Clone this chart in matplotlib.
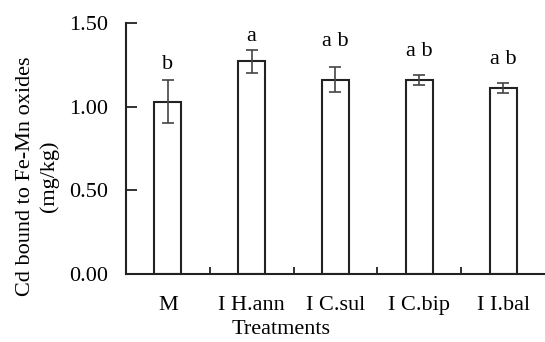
import matplotlib.pyplot as plt
import numpy as np

treatments = ['M', 'I H.ann', 'I C.sul', 'I C.bip', 'I I.bal']
means = [1.03, 1.27, 1.16, 1.16, 1.11]
errors = [0.13, 0.07, 0.075, 0.03, 0.03]
letters = ['b', 'a', 'a b', 'a b', 'a b']
letter_y = [1.25, 1.42, 1.39, 1.33, 1.28]

plt.rcParams['font.family'] = ['Liberation Serif', 'DejaVu Serif']
plt.rcParams['font.size'] = 16

fig = plt.figure(figsize=(5.45, 3.42), dpi=100)
ax = fig.add_axes([0.231, 0.199, 0.769, 0.734])

x = np.arange(len(treatments))
ax.bar(x, means, width=0.32, color='white', edgecolor='#222222', linewidth=1.5)
ax.errorbar(x, means, yerr=errors, fmt='none', ecolor='#444444',
            elinewidth=1.2, capsize=4, capthick=1.2)
for xi, lab, ly in zip(x, letters, letter_y):
    ax.text(xi, ly, lab, ha='center', va='center', fontsize=16)

ax.set_xlim(-0.5, 4.5)
ax.set_ylim(0, 1.5)
ax.set_yticks([0, 0.5, 1.0, 1.5])
ax.set_yticklabels(['0.00', '0.50', '1.00', '1.50'])
ax.set_xticks(x)
ax.set_xticklabels(treatments)
ax.set_xticks(np.arange(0.5, 4.5, 1), minor=True)
ax.tick_params(axis='x', which='major', length=0, pad=16)
ax.tick_params(axis='x', which='minor', direction='in', length=5, width=1.3, color='#222222')
ax.tick_params(axis='y', direction='in', length=8, width=1.3, color='#222222', pad=13)

for s in ['top', 'right']:
    ax.spines[s].set_visible(False)
for s in ['left', 'bottom']:
    ax.spines[s].set_linewidth(1.5)
    ax.spines[s].set_color('#222222')

ax.set_xlabel('Treatments', va='center')
ax.xaxis.set_label_coords(0.37, -0.22)
ax.set_ylabel('Cd bound to Fe-Mn oxides\n(mg/kg)', va='center', linespacing=1.3)
ax.yaxis.set_label_coords(-0.21, 0.39)

fig.savefig('out.png', dpi=100)
